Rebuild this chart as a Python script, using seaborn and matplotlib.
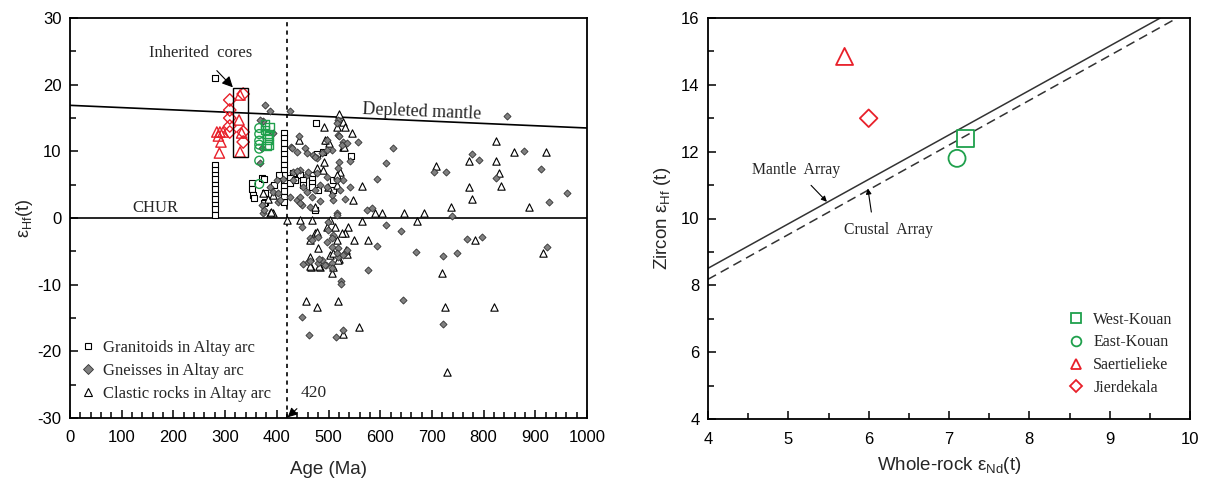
import matplotlib
matplotlib.use("Agg")
import matplotlib.pyplot as plt
from matplotlib.ticker import MultipleLocator
from matplotlib.lines import Line2D
from matplotlib.patches import Rectangle
import seaborn as sns

# ---------------- data: left panel (Age vs eHf) ----------------
gran_age = [280]*12 + [414]*14 + [352, 352, 354, 356, 371, 375, 377, 377, 375, 476, 489, 477, 543, 509,
            432, 445, 468, 468, 468, 468, 480, 509, 425, 425, 435, 474, 451, 451, 395, 405]
gran_ehf = [21.0, 8.0, 7.2, 6.5, 5.8, 5.0, 4.3, 3.5, 2.8, 2.0, 1.3, 0.5,
            12.8, 12.0, 11.2, 10.4, 9.6, 8.8, 8.0, 7.2, 6.4, 5.6, 4.8, 4.0, 3.2, 2.4,
            5.2, 4.3, 3.5, 3.0, 6.0, 5.85, 3.75, 2.4, 2.25, 14.25, 9.9, 9.6, 9.3, 5.7,
            6.75, 6.45, 6.45, 5.85, 5.25, 4.65, 4.2, 4.2, 6.0, 5.25, 5.7, 1.2, 5.7, 4.95, 5.0, 6.5]

gneiss_age = [377, 387, 425, 374, 443, 427, 439, 455, 470, 477, 497, 518, 487, 368, 431, 445,
              412, 402, 439, 448, 484, 516, 374, 376, 448, 464, 509,
              451, 460, 480, 487, 495, 506, 518, 532, 576, 524, 524, 449, 462, 514, 528,
              516, 518, 528, 557, 506, 542, 520, 528, 541,
              532, 509, 516, 574, 584, 506, 518, 528,
              429, 520, 526, 518, 458, 477, 497, 484, 516, 474, 507, 458, 387, 393, 406, 445,
              499, 499, 468, 480, 497, 507, 516, 535, 464, 482, 493, 507,
              432, 426, 451, 468, 445, 464, 458, 474, 497, 535, 497, 522, 400, 402, 371,
              440, 460, 367, 393, 372,
              625, 611, 593, 611, 640, 593, 669,
              845, 778, 878, 791, 704, 727, 911, 824, 961, 926, 739, 722, 748, 768, 797, 923, 644, 722]
gneiss_ehf = [16.95, 16.05, 16.05, 14.55, 12.3, 10.65, 9.9, 10.5, 9.45, 9.0, 11.7, 14.7, 9.75, 8.25, 6.9, 7.2,
              5.85, 2.4, 2.7, 1.95, 2.55, 0.75, 0.75, 1.2, -1.35, -3.0, -2.55,
              -6.9, -6.6, -6.75, -6.3, -7.05, -6.75, -5.85, -5.25, -7.8, -9.45, -9.9, -14.85, -17.55, -17.85, -16.8,
              14.25, 12.45, 11.4, 11.4, 10.2, 8.55, 8.4, 5.7, 4.65,
              2.85, 2.7, 0.5, 1.2, 1.5, -3.0, -4.5, -5.55,
              10.5, 12.3, 11.0, 7.5, 6.45, 6.75, 6.15, 4.95, 5.7, 4.2, 3.45, 3.9, 4.65, 3.9, 2.7, 3.15,
              -0.6, -1.8, -3.3, -2.85, -3.6, -4.35, -5.25, -4.8, -6.45, -6.15, -7.05, -7.5,
              5.7, 3.15, 4.65, 3.15, 2.25, 1.65, 9.75, 9.15, 10.2, 11.25, 4.65, 4.2, 5.7, 3.75, 1.95,
              7.0, 6.9, 14.7, 12.75, 10.5,
              10.5, 8.25, 5.85, -1.05, -1.95, -4.2, -5.1,
              15.3, 9.6, 10.05, 8.7, 6.9, 6.9, 7.35, 6.0, 3.75, 2.4, 0.3, -5.7, -5.25, -3.2, -2.85, -4.35, -12.3, -15.9]

clastic_age = [491, 443, 497, 501, 491, 477,
               383, 393, 420, 445, 468, 503, 474, 497, 480, 503,
               466, 484, 508, 506, 509, 520, 535, 456, 477, 518, 559, 528,
               520, 528, 532, 545, 528, 522, 516, 565, 516,
               547, 590, 603, 565, 512, 538, 532, 550, 576, 516, 533,
               516, 493, 530, 489, 499, 474, 477, 526, 464, 464, 518, 482, 464, 387,
               374, 393, 389,
               824, 859, 921, 772, 824, 708, 830, 772, 834, 778, 737, 888, 646, 685, 671, 783, 915, 720, 725, 820, 729]
clastic_ehf = [13.65, 11.7, 11.7, 11.25, 8.4, 7.5,
               2.85, 0.75, -0.3, -0.3, -0.3, -0.3, -2.25, -1.35, -4.5, -5.55,
               -7.35, -7.35, -7.35, -8.25, -5.25, -6.15, -5.4, -12.45, -13.35, -12.45, -16.35, -17.4,
               15.6, 14.4, 13.65, 12.75, 10.65, 6.9, 6.45, 4.8, 4.95,
               2.75, 0.75, 0.75, -0.45, -1.35, -1.35, -2.25, -3.3, -3.3, -3.3, -4.8,
               13.65, 11.7, 10.65, 7.2, 4.65, 1.65, -2.1, -2.25, -3.3, -5.85, -6.3, -7.2, -7.2, 0.75,
               3.75, 3.45, 0.9,
               11.55, 9.9, 9.9, 8.55, 8.55, 7.8, 6.75, 4.65, 4.8, 2.85, 1.65, 1.65, 0.75, 0.75, -0.45, -3.3, -5.25, -8.25, -13.35, -13.35, -23.1]

# samples of this study (left panel)
wk_age = [377, 377, 382, 382, 385, 385, 380, 386]
wk_ehf = [14.0, 13.2, 12.6, 11.8, 12.4, 11.0, 10.8, 13.6]
ek_age = [366, 366, 366, 366, 366, 366, 366]
ek_ehf = [13.5, 12.6, 11.6, 11.0, 10.4, 8.6, 5.1]
sa_age = [284, 290, 296, 287, 292, 289, 329, 327, 332, 329]
sa_ehf = [12.9, 12.9, 12.9, 12.3, 11.4, 9.75, 18.45, 14.7, 12.75, 9.9]
ji_age = [309, 309, 309, 309, 309, 335, 335, 335]
ji_ehf = [17.7, 16.2, 15.0, 13.8, 12.9, 18.6, 12.9, 11.4]

dm_age = [0, 1000]
dm_ehf = [16.9, 13.5]
chur_age = [0, 1000]
chur_ehf = [0, 0]

# ---------------- data: right panel ----------------
nd_west, hf_west = [7.2], [12.4]
nd_east, hf_east = [7.1], [11.8]
nd_saer, hf_saer = [5.7], [14.85]
nd_jier, hf_jier = [6.0], [13.0]
mantle_nd = [4.0, 9.63]
mantle_hf = [8.51, 16.0]
crust_nd = [4.0, 9.84]
crust_hf = [8.18, 16.0]

GREEN = "#1fa04c"
RED = "#e8202a"
GRAY = "#808080"

sns.set_style("ticks")
plt.rcParams['font.family'] = ['Liberation Sans', 'DejaVu Sans']
plt.rcParams['mathtext.fontset'] = 'custom'
plt.rcParams['mathtext.rm'] = 'Liberation Sans'
plt.rcParams['mathtext.it'] = 'Liberation Sans'
plt.rcParams['axes.unicode_minus'] = False
SERIF = ['Liberation Serif', 'DejaVu Serif']

fig = plt.figure(figsize=(12.31, 4.80), dpi=100)
ax1 = fig.add_axes([70/1231, 1-418/480, 517/1231, 400/480])
ax2 = fig.add_axes([708/1231, 1-419/480, 482/1231, 401/480])

# ---- left panel ----
ax1.plot(dm_age, dm_ehf, color='black', lw=1.2, zorder=2)
ax1.plot(chur_age, chur_ehf, color='black', lw=1.2, zorder=2)
ax1.axvline(420, color='black', ls=(0, (2.5, 2.5)), lw=1.2, zorder=2)

sns.scatterplot(x=gran_age, y=gran_ehf, ax=ax1, marker='s', s=14, facecolor='white',
                edgecolor='black', linewidth=0.8, zorder=3)
sns.scatterplot(x=clastic_age, y=clastic_ehf, ax=ax1, marker='^', s=28, facecolor='white',
                edgecolor='black', linewidth=0.8, zorder=3)
sns.scatterplot(x=gneiss_age, y=gneiss_ehf, ax=ax1, marker='D', s=13, facecolor=GRAY,
                edgecolor='#333333', linewidth=0.6, zorder=4)
sns.scatterplot(x=ek_age, y=ek_ehf, ax=ax1, marker='o', s=40, facecolor='none',
                edgecolor=GREEN, linewidth=1.0, zorder=5)
sns.scatterplot(x=wk_age, y=wk_ehf, ax=ax1, marker='s', s=40, facecolor='none',
                edgecolor=GREEN, linewidth=1.0, zorder=5)
sns.scatterplot(x=sa_age, y=sa_ehf, ax=ax1, marker='^', s=55, facecolor='none',
                edgecolor=RED, linewidth=1.0, zorder=5)
sns.scatterplot(x=ji_age, y=ji_ehf, ax=ax1, marker='D', s=40, facecolor='none',
                edgecolor=RED, linewidth=1.0, zorder=5)

ax1.add_patch(Rectangle((315, 9.2), 29, 10.3, fill=False, edgecolor='black', lw=1.0, zorder=6))
ax1.annotate('Inherited  cores', xy=(315, 19.6), xytext=(252, 24.7), ha='center', va='center',
             fontsize=12, family=SERIF,
             arrowprops=dict(arrowstyle='-|>', color='black', lw=0.8, mutation_scale=16,
                             shrinkA=6, shrinkB=0))
ax1.annotate('420', xy=(421, -29.9), xytext=(472, -26.2), ha='center', va='center',
             fontsize=12.5, family=SERIF,
             arrowprops=dict(arrowstyle='-|>', color='black', lw=0.8, mutation_scale=14,
                             shrinkA=5, shrinkB=0))
ax1.text(680, 15.9, 'Depleted mantle', fontsize=13, family=SERIF, ha='center', va='center',
         rotation=-2.3)
ax1.text(165, 0.3, 'CHUR', fontsize=12, family=SERIF, ha='center', va='bottom')

ax1.set_xlim(0, 1000)
ax1.set_ylim(-30, 30)
ax1.xaxis.set_major_locator(MultipleLocator(100))
ax1.xaxis.set_minor_locator(MultipleLocator(20))
ax1.yaxis.set_major_locator(MultipleLocator(10))
ax1.yaxis.set_minor_locator(MultipleLocator(5))
ax1.set_xlabel('Age (Ma)', fontsize=13.5, labelpad=11)
ax1.set_ylabel('ε$_{\\rm Hf}$(t)', fontsize=13, labelpad=2)

leg1_handles = [
    Line2D([], [], marker='s', ls='none', markersize=5, markerfacecolor='white', markeredgecolor='black', markeredgewidth=0.8),
    Line2D([], [], marker='D', ls='none', markersize=5, markerfacecolor=GRAY, markeredgecolor='#333333', markeredgewidth=0.6),
    Line2D([], [], marker='^', ls='none', markersize=6, markerfacecolor='white', markeredgecolor='black', markeredgewidth=0.8),
]
ax1.legend(leg1_handles, ['Granitoids in Altay arc', 'Gneisses in Altay arc', 'Clastic rocks in Altay arc'],
           loc='lower left', bbox_to_anchor=(0.0, 0.012), frameon=False, handlelength=0.8,
           handletextpad=0.5, labelspacing=0.42, borderaxespad=0.3,
           prop={'family': SERIF, 'size': 12})

# ---- right panel ----
ax2.plot(mantle_nd, mantle_hf, color='#333333', lw=1.1, zorder=2)
ax2.plot(crust_nd, crust_hf, color='#333333', lw=1.1, ls=(0, (6, 3.5)), zorder=2)

sns.scatterplot(x=nd_west, y=hf_west, ax=ax2, marker='s', s=150, facecolor='none', edgecolor=GREEN, linewidth=1.3, zorder=5)
sns.scatterplot(x=nd_east, y=hf_east, ax=ax2, marker='o', s=150, facecolor='none', edgecolor=GREEN, linewidth=1.3, zorder=5)
sns.scatterplot(x=nd_saer, y=hf_saer, ax=ax2, marker='^', s=150, facecolor='none', edgecolor=RED, linewidth=1.3, zorder=5)
sns.scatterplot(x=nd_jier, y=hf_jier, ax=ax2, marker='D', s=80, facecolor='none', edgecolor=RED, linewidth=1.3, zorder=5)

ax2.annotate('Mantle  Array', xy=(5.48, 10.5), xytext=(5.1, 11.45), ha='center', va='center',
             fontsize=11.3, family=SERIF,
             arrowprops=dict(arrowstyle='-|>', color='black', lw=0.8, mutation_scale=8,
                             shrinkA=4, shrinkB=0))
ax2.annotate('Crustal  Array', xy=(5.99, 10.9), xytext=(6.24, 9.65), ha='center', va='center',
             fontsize=11.3, family=SERIF,
             arrowprops=dict(arrowstyle='-|>', color='black', lw=0.8, mutation_scale=8,
                             shrinkA=5, shrinkB=0, relpos=(0.33, 1.0)))

ax2.set_xlim(4, 10)
ax2.set_ylim(4, 16)
ax2.xaxis.set_major_locator(MultipleLocator(1))
ax2.xaxis.set_minor_locator(MultipleLocator(0.5))
ax2.yaxis.set_major_locator(MultipleLocator(2))
ax2.yaxis.set_minor_locator(MultipleLocator(1))
ax2.set_xlabel('Whole-rock ε$_{\\rm Nd}$(t)', fontsize=13.5, labelpad=6)
ax2.set_ylabel('Zircon ε$_{\\rm Hf}$ (t)', fontsize=13.5, labelpad=6)

leg2_handles = [
    Line2D([], [], marker='s', ls='none', markersize=7, markerfacecolor='none', markeredgecolor=GREEN, markeredgewidth=1.3),
    Line2D([], [], marker='o', ls='none', markersize=7, markerfacecolor='none', markeredgecolor=GREEN, markeredgewidth=1.3),
    Line2D([], [], marker='^', ls='none', markersize=7.5, markerfacecolor='none', markeredgecolor=RED, markeredgewidth=1.3),
    Line2D([], [], marker='D', ls='none', markersize=6, markerfacecolor='none', markeredgecolor=RED, markeredgewidth=1.3),
]
ax2.legend(leg2_handles, ['West-Kouan', 'East-Kouan', 'Saertielieke', 'Jierdekala'],
           loc='lower left', bbox_to_anchor=(0.72, 0.022), frameon=False, handlelength=0.8,
           handletextpad=0.7, labelspacing=0.42, prop={'family': SERIF, 'size': 11.5})

for ax in (ax1, ax2):
    for sp in ax.spines.values():
        sp.set_visible(True)
        sp.set_linewidth(1.3)
        sp.set_color('black')
    ax.tick_params(which='both', direction='in', top=False, right=False, labelsize=12, colors='black')
    ax.tick_params(axis='x', which='both', pad=9)
    ax.tick_params(axis='y', which='both', pad=6)
    ax.tick_params(which='major', length=6, width=1.1)
    ax.tick_params(which='minor', length=4, width=1.1)
    ax.grid(False)

fig.savefig('out.png', dpi=100)
